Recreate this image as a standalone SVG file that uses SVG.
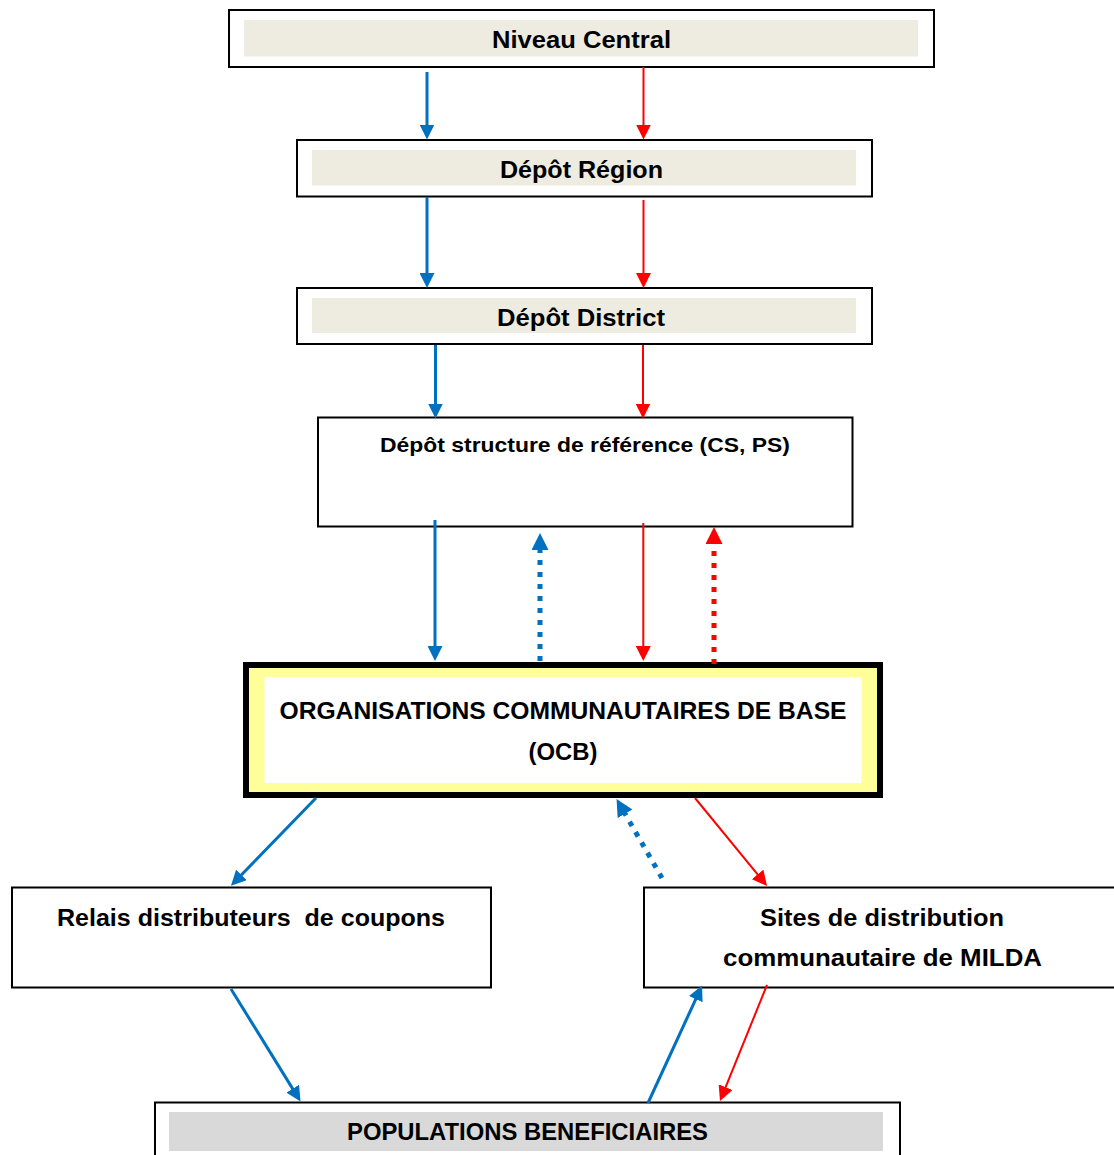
<svg xmlns="http://www.w3.org/2000/svg" width="1114" height="1155" viewBox="0 0 1114 1155">
<style>
.box{fill:#fff;stroke:#000;stroke-width:2}
.beige{fill:#EEECE1}
.gray{fill:#D9D9D9}
.t{font-family:"Liberation Sans",Arial,sans-serif;font-weight:bold;font-size:23px;fill:#000;text-anchor:middle}
.s{font-size:21px}
.b{stroke:#0070C0;stroke-width:3;fill:none}
.r{stroke:#FF0000;stroke-width:2;fill:none}
.bd{stroke:#0070C0;stroke-width:5;stroke-dasharray:5 7;fill:none}
.rd{stroke:#FF0000;stroke-width:5;stroke-dasharray:5 7;fill:none}
</style>
<defs>
<marker id="ab" markerUnits="userSpaceOnUse" viewBox="0 0 15 15" refX="7.5" refY="7.5" markerWidth="15" markerHeight="15" orient="auto"><path d="M0,0 L15,7.5 L0,15 z" fill="#0070C0"/></marker>
<marker id="ar" markerUnits="userSpaceOnUse" viewBox="0 0 15 15" refX="7.5" refY="7.5" markerWidth="15" markerHeight="15" orient="auto"><path d="M0,0 L15,7.5 L0,15 z" fill="#FF0000"/></marker>
<marker id="abd" markerUnits="userSpaceOnUse" viewBox="0 0 17 17" refX="8.5" refY="8.5" markerWidth="17" markerHeight="17" orient="auto"><path d="M0,0 L17,8.5 L0,17 z" fill="#0070C0"/></marker>
<marker id="ard" markerUnits="userSpaceOnUse" viewBox="0 0 17 17" refX="8.5" refY="8.5" markerWidth="17" markerHeight="17" orient="auto"><path d="M0,0 L17,8.5 L0,17 z" fill="#FF0000"/></marker>
</defs>
<rect width="1114" height="1155" fill="#fff"/>

<g id="niveau-central">
<rect class="box" x="229" y="10" width="705" height="57"/>
<rect class="beige" x="244" y="20" width="674" height="36.5"/>
<text class="t" x="581.5" y="47.7" textLength="179" lengthAdjust="spacingAndGlyphs">Niveau Central</text>
</g>

<g id="depot-region">
<rect class="box" x="297" y="140" width="575" height="56.5"/>
<rect class="beige" x="312" y="150" width="544" height="35.5"/>
<text class="t" x="581.5" y="178.3" textLength="163" lengthAdjust="spacingAndGlyphs">Dépôt Région</text>
</g>

<g id="depot-district">
<rect class="box" x="297" y="288" width="575" height="56"/>
<rect class="beige" x="312" y="298" width="544" height="35"/>
<text class="t" x="581" y="326" textLength="168" lengthAdjust="spacingAndGlyphs">Dépôt District</text>
</g>

<g id="depot-structure">
<rect class="box" x="318" y="417.5" width="534.5" height="109"/>
<text class="t s" x="585" y="452" textLength="410" lengthAdjust="spacingAndGlyphs">Dépôt structure de référence (CS, PS)</text>
</g>

<g id="ocb">
<rect x="246" y="665" width="634" height="130" fill="#FFFF99" stroke="#000" stroke-width="6"/>
<rect x="264.5" y="677" width="597" height="106" fill="#fff"/>
<text class="t" x="563" y="719.3" textLength="567" lengthAdjust="spacingAndGlyphs">ORGANISATIONS COMMUNAUTAIRES DE BASE</text>
<text class="t" x="563" y="760" textLength="69" lengthAdjust="spacingAndGlyphs">(OCB)</text>
</g>

<g id="relais">
<rect class="box" x="12" y="887.5" width="479" height="100"/>
<text class="t" x="251" y="925.7" textLength="388" lengthAdjust="spacingAndGlyphs">Relais distributeurs &#160;de coupons</text>
</g>

<g id="sites">
<rect class="box" x="644" y="887.5" width="480" height="100"/>
<text class="t" x="882" y="925.7" textLength="244" lengthAdjust="spacingAndGlyphs">Sites de distribution</text>
<text class="t" x="882.5" y="965.7" textLength="319" lengthAdjust="spacingAndGlyphs">communautaire de MILDA</text>
</g>

<g id="populations">
<rect class="box" x="155" y="1102.5" width="745" height="60"/>
<rect class="gray" x="169" y="1112" width="714" height="39"/>
<text class="t" x="527.5" y="1140" textLength="361" lengthAdjust="spacingAndGlyphs">POPULATIONS BENEFICIAIRES</text>
</g>

<g id="connectors">
<line class="b" x1="427" y1="72" x2="427" y2="132" marker-end="url(#ab)"/>
<line class="r" x1="643.5" y1="67" x2="643.5" y2="132" marker-end="url(#ar)"/>
<line class="b" x1="427" y1="197" x2="427" y2="280.5" marker-end="url(#ab)"/>
<line class="r" x1="643.5" y1="200" x2="643.5" y2="280.5" marker-end="url(#ar)"/>
<line class="b" x1="435.5" y1="345" x2="435.5" y2="411" marker-end="url(#ab)"/>
<line class="r" x1="643" y1="345" x2="643" y2="411" marker-end="url(#ar)"/>
<line class="b" x1="435" y1="520" x2="435" y2="653.5" marker-end="url(#ab)"/>
<line class="bd" x1="540" y1="661" x2="540" y2="541.5" marker-end="url(#abd)"/>
<line class="r" x1="643.3" y1="523" x2="643.3" y2="653.5" marker-end="url(#ar)"/>
<line class="rd" x1="714" y1="664" x2="714" y2="535.5" marker-end="url(#ard)"/>
<line class="b" x1="316" y1="798" x2="236.2" y2="880.3" marker-end="url(#ab)"/>
<line class="bd" x1="662" y1="878" x2="620.8" y2="806.4" marker-end="url(#abd)"/>
<line class="r" x1="695" y1="798" x2="762.3" y2="880.2" marker-end="url(#ar)"/>
<line class="b" x1="231" y1="989" x2="296.6" y2="1095.1" marker-end="url(#ab)"/>
<line class="b" x1="648" y1="1103" x2="698.9" y2="992.3" marker-end="url(#ab)"/>
<line class="r" x1="767" y1="985" x2="722.8" y2="1094.1" marker-end="url(#ar)"/>
</g>
</svg>
